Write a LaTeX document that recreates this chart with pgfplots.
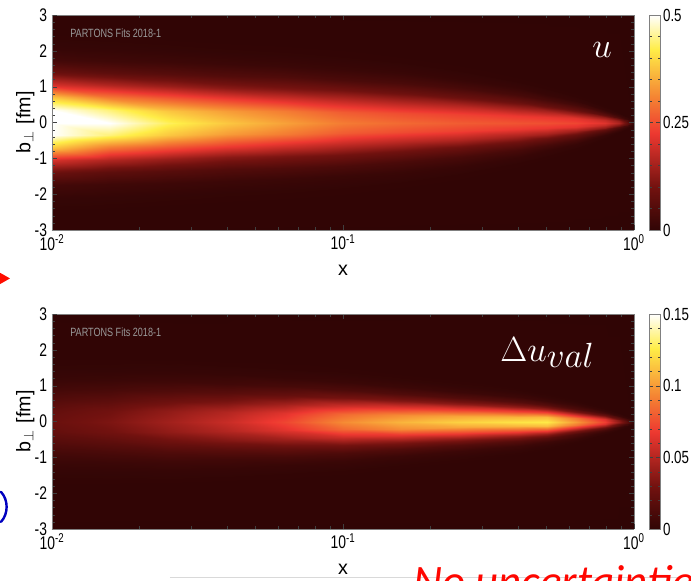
\documentclass[border=0pt]{standalone}
\usepackage{fontspec}
\setmainfont{Liberation Sans}[FakeStretch=0.76]
\newfontfamily\labelfont{Liberation Sans}
\newfontfamily\carlito{Carlito}
\usepackage{pgfplots}
\pgfplotsset{compat=1.18}
\pgfplotsset{
 colormap={partons}{rgb(0pt)=(0.19,0.02,0.02); rgb(20pt)=(0.45,0.07,0.06); rgb(45pt)=(0.93,0.22,0.19); rgb(62pt)=(0.96,0.52,0.2); rgb(84pt)=(1,0.93,0.28); rgb(100pt)=(1,1,1)},
}
\begin{document}
\begin{tikzpicture}
\useasboundingbox (0,0) rectangle (17.275cm,-14.5cm);
% ---------------- top panel: u ----------------
\begin{axis}[at={(1.3cm,-5.75cm)}, anchor=south west,
  scale only axis, width=14.55cm, height=5.375cm,
  view={0}{90},
  xmode=log, xmin=0.01, xmax=1, ymin=-3, ymax=3,
  xtick={0.01,0.1,1},
  xticklabels={10\textsuperscript{-2},10\textsuperscript{-1},10\textsuperscript{0}},
  ytick={-3,-2,-1,0,1,2,3}, yticklabels={-3,-2,-1,0,1,2,3}, minor y tick num=4,
  ztick=\empty,
  tick align=inside,
  axis line style={black!50},
  tick style={black!75},
  major tick length=0.13cm, minor tick length=0.08cm,
  tick label style={font=\fontsize{13}{13}\selectfont},
  label style={font=\labelfont\fontsize{14}{14}\selectfont},
  xlabel={x}, ylabel={b$_{\perp}$\hspace{0.35em}[fm]},
  xlabel style={at={(axis description cs:0.5,-0.186)}, anchor=center},
  ylabel style={at={(axis description cs:-0.046,0.5)}, anchor=center},
  axis on top, enlargelimits=false,
  colormap name=partons, colorbar,
  point meta min=0, point meta max=0.5,
  colorbar style={at={(parent axis.north east)}, anchor=north west, xshift=0.08cm,
    width=0.275cm, axis line style={black!50},
    tick align=inside, tick style={black!75},
    major tick length=0.1cm, minor tick length=0.06cm,
    ytick={0,0.25,0.5}, yticklabels={0,0.25,0.5}, minor y tick num=4,
    yticklabel style={xshift=-1.5pt},
    tick label style={font=\fontsize{12.5}{12.5}\selectfont}}]
\addplot3[surf, shader=interp, mesh/ordering=y varies, mesh/rows=17] table[row sep=\\] {
x y z \\
0.01 -3 0 \\ 0.01 -2.45 0.0014 \\ 0.01 -2.1 0.0069 \\ 0.01 -1.75 0.0272 \\ 0.01 -1.4 0.0839 \\ 0.01 -1.05 0.2013 \\ 0.01 -0.7 0.3760 \\ 0.01 -0.35 0.5472 \\ 0.01 0 0.62 \\ 0.01 0.35 0.5472 \\ 0.01 0.7 0.3760 \\ 0.01 1.05 0.2013 \\ 0.01 1.4 0.0839 \\ 0.01 1.75 0.0272 \\ 0.01 2.1 0.0069 \\ 0.01 2.45 0.0014 \\ 0.01 3 0 \\
0.015849 -3 0 \\ 0.015849 -2.415 0.0011 \\ 0.015849 -2.07 0.0056 \\ 0.015849 -1.725 0.0220 \\ 0.015849 -1.38 0.0677 \\ 0.015849 -1.035 0.1624 \\ 0.015849 -0.69 0.3033 \\ 0.015849 -0.345 0.4413 \\ 0.015849 0 0.5 \\ 0.015849 0.345 0.4413 \\ 0.015849 0.69 0.3033 \\ 0.015849 1.035 0.1624 \\ 0.015849 1.38 0.0677 \\ 0.015849 1.725 0.0220 \\ 0.015849 2.07 0.0056 \\ 0.015849 2.415 0.0011 \\ 0.015849 3 0 \\
0.025119 -3 0 \\ 0.025119 -2.345 0.0009 \\ 0.025119 -2.01 0.0048 \\ 0.025119 -1.675 0.0189 \\ 0.025119 -1.34 0.0582 \\ 0.025119 -1.005 0.1396 \\ 0.025119 -0.67 0.2608 \\ 0.025119 -0.335 0.3795 \\ 0.025119 0 0.43 \\ 0.025119 0.335 0.3795 \\ 0.025119 0.67 0.2608 \\ 0.025119 1.005 0.1396 \\ 0.025119 1.34 0.0582 \\ 0.025119 1.675 0.0189 \\ 0.025119 2.01 0.0048 \\ 0.025119 2.345 0.0009 \\ 0.025119 3 0 \\
0.039811 -3 0 \\ 0.039811 -2.275 0.0008 \\ 0.039811 -1.95 0.0042 \\ 0.039811 -1.625 0.0167 \\ 0.039811 -1.3 0.0514 \\ 0.039811 -0.975 0.1234 \\ 0.039811 -0.65 0.2305 \\ 0.039811 -0.325 0.3354 \\ 0.039811 0 0.38 \\ 0.039811 0.325 0.3354 \\ 0.039811 0.65 0.2305 \\ 0.039811 0.975 0.1234 \\ 0.039811 1.3 0.0514 \\ 0.039811 1.625 0.0167 \\ 0.039811 1.95 0.0042 \\ 0.039811 2.275 0.0008 \\ 0.039811 3 0 \\
0.063096 -3 0 \\ 0.063096 -2.205 0.0007 \\ 0.063096 -1.89 0.0038 \\ 0.063096 -1.575 0.0149 \\ 0.063096 -1.26 0.0460 \\ 0.063096 -0.945 0.1104 \\ 0.063096 -0.63 0.2062 \\ 0.063096 -0.315 0.3001 \\ 0.063096 0 0.34 \\ 0.063096 0.315 0.3001 \\ 0.063096 0.63 0.2062 \\ 0.063096 0.945 0.1104 \\ 0.063096 1.26 0.0460 \\ 0.063096 1.575 0.0149 \\ 0.063096 1.89 0.0038 \\ 0.063096 2.205 0.0007 \\ 0.063096 3 0 \\
0.1 -3 0 \\ 0.1 -2.1 0.0007 \\ 0.1 -1.8 0.0033 \\ 0.1 -1.5 0.0132 \\ 0.1 -1.2 0.0406 \\ 0.1 -0.9 0.0974 \\ 0.1 -0.6 0.1820 \\ 0.1 -0.3 0.2648 \\ 0.1 0 0.30 \\ 0.1 0.3 0.2648 \\ 0.1 0.6 0.1820 \\ 0.1 0.9 0.0974 \\ 0.1 1.2 0.0406 \\ 0.1 1.5 0.0132 \\ 0.1 1.8 0.0033 \\ 0.1 2.1 0.0007 \\ 0.1 3 0 \\
0.158489 -3 0 \\ 0.158489 -1.925 0.0006 \\ 0.158489 -1.65 0.0031 \\ 0.158489 -1.375 0.0123 \\ 0.158489 -1.1 0.0379 \\ 0.158489 -0.825 0.0909 \\ 0.158489 -0.55 0.1698 \\ 0.158489 -0.275 0.2471 \\ 0.158489 0 0.28 \\ 0.158489 0.275 0.2471 \\ 0.158489 0.55 0.1698 \\ 0.158489 0.825 0.0909 \\ 0.158489 1.1 0.0379 \\ 0.158489 1.375 0.0123 \\ 0.158489 1.65 0.0031 \\ 0.158489 1.925 0.0006 \\ 0.158489 3 0 \\
0.251189 -3 0 \\ 0.251189 -1.68 0.0006 \\ 0.251189 -1.44 0.0029 \\ 0.251189 -1.2 0.0116 \\ 0.251189 -0.96 0.0359 \\ 0.251189 -0.72 0.0860 \\ 0.251189 -0.48 0.1607 \\ 0.251189 -0.24 0.2339 \\ 0.251189 0 0.265 \\ 0.251189 0.24 0.2339 \\ 0.251189 0.48 0.1607 \\ 0.251189 0.72 0.0860 \\ 0.251189 0.96 0.0359 \\ 0.251189 1.2 0.0116 \\ 0.251189 1.44 0.0029 \\ 0.251189 1.68 0.0006 \\ 0.251189 3 0 \\
0.398107 -3 0 \\ 0.398107 -1.33 0.0006 \\ 0.398107 -1.14 0.0028 \\ 0.398107 -0.95 0.0112 \\ 0.398107 -0.76 0.0345 \\ 0.398107 -0.57 0.0828 \\ 0.398107 -0.38 0.1547 \\ 0.398107 -0.19 0.2250 \\ 0.398107 0 0.255 \\ 0.398107 0.19 0.2250 \\ 0.398107 0.38 0.1547 \\ 0.398107 0.57 0.0828 \\ 0.398107 0.76 0.0345 \\ 0.398107 0.95 0.0112 \\ 0.398107 1.14 0.0028 \\ 0.398107 1.33 0.0006 \\ 0.398107 3 0 \\
0.501187 -3 0 \\ 0.501187 -1.085 0.0006 \\ 0.501187 -0.93 0.0028 \\ 0.501187 -0.775 0.0110 \\ 0.501187 -0.62 0.0338 \\ 0.501187 -0.465 0.0812 \\ 0.501187 -0.31 0.1516 \\ 0.501187 -0.155 0.2206 \\ 0.501187 0 0.25 \\ 0.501187 0.155 0.2206 \\ 0.501187 0.31 0.1516 \\ 0.501187 0.465 0.0812 \\ 0.501187 0.62 0.0338 \\ 0.501187 0.775 0.0110 \\ 0.501187 0.93 0.0028 \\ 0.501187 1.085 0.0006 \\ 0.501187 3 0 \\
0.630957 -3 0 \\ 0.630957 -0.84 0.0005 \\ 0.630957 -0.72 0.0027 \\ 0.630957 -0.6 0.0105 \\ 0.630957 -0.48 0.0325 \\ 0.630957 -0.36 0.0779 \\ 0.630957 -0.24 0.1456 \\ 0.630957 -0.12 0.2118 \\ 0.630957 0 0.24 \\ 0.630957 0.12 0.2118 \\ 0.630957 0.24 0.1456 \\ 0.630957 0.36 0.0779 \\ 0.630957 0.48 0.0325 \\ 0.630957 0.6 0.0105 \\ 0.630957 0.72 0.0027 \\ 0.630957 0.84 0.0005 \\ 0.630957 3 0 \\
0.794328 -3 0 \\ 0.794328 -0.49 0.0005 \\ 0.794328 -0.42 0.0023 \\ 0.794328 -0.35 0.0092 \\ 0.794328 -0.28 0.0284 \\ 0.794328 -0.21 0.0682 \\ 0.794328 -0.14 0.1274 \\ 0.794328 -0.07 0.1853 \\ 0.794328 0 0.21 \\ 0.794328 0.07 0.1853 \\ 0.794328 0.14 0.1274 \\ 0.794328 0.21 0.0682 \\ 0.794328 0.28 0.0284 \\ 0.794328 0.35 0.0092 \\ 0.794328 0.42 0.0023 \\ 0.794328 0.49 0.0005 \\ 0.794328 3 0 \\
0.891251 -3 0 \\ 0.891251 -0.315 0.0004 \\ 0.891251 -0.27 0.0018 \\ 0.891251 -0.225 0.0070 \\ 0.891251 -0.18 0.0216 \\ 0.891251 -0.135 0.0520 \\ 0.891251 -0.09 0.0970 \\ 0.891251 -0.045 0.1412 \\ 0.891251 0 0.16 \\ 0.891251 0.045 0.1412 \\ 0.891251 0.09 0.0970 \\ 0.891251 0.135 0.0520 \\ 0.891251 0.18 0.0216 \\ 0.891251 0.225 0.0070 \\ 0.891251 0.27 0.0018 \\ 0.891251 0.315 0.0004 \\ 0.891251 3 0 \\
1 -3 0 \\ 1 -0.105 0 \\ 1 -0.09 0 \\ 1 -0.075 0 \\ 1 -0.06 0 \\ 1 -0.045 0 \\ 1 -0.03 0 \\ 1 -0.015 0 \\ 1 0 0 \\ 1 0.015 0 \\ 1 0.03 0 \\ 1 0.045 0 \\ 1 0.06 0 \\ 1 0.075 0 \\ 1 0.09 0 \\ 1 0.105 0 \\ 1 3 0 \\
};
\node[anchor=west, inner sep=0pt, text=black!40, font=\fontsize{8.5}{8.5}\selectfont] at (axis description cs:0.031,0.916) {PARTONS Fits 2018-1};
\node[text=white, inner sep=0pt, font=\fontsize{46}{46}\selectfont] at (axis description cs:0.945,0.838) {$u$};
\end{axis}
% ---------------- bottom panel: Delta u_val ----------------
\begin{axis}[at={(1.3cm,-13.225cm)}, anchor=south west,
  scale only axis, width=14.55cm, height=5.375cm,
  view={0}{90},
  xmode=log, xmin=0.01, xmax=1, ymin=-3, ymax=3,
  xtick={0.01,0.1,1},
  xticklabels={10\textsuperscript{-2},10\textsuperscript{-1},10\textsuperscript{0}},
  ytick={-3,-2,-1,0,1,2,3}, yticklabels={-3,-2,-1,0,1,2,3}, minor y tick num=4,
  ztick=\empty,
  tick align=inside,
  axis line style={black!50},
  tick style={black!75},
  major tick length=0.13cm, minor tick length=0.08cm,
  tick label style={font=\fontsize{13}{13}\selectfont},
  label style={font=\labelfont\fontsize{14}{14}\selectfont},
  xlabel={x}, ylabel={b$_{\perp}$\hspace{0.35em}[fm]},
  xlabel style={at={(axis description cs:0.5,-0.186)}, anchor=center},
  ylabel style={at={(axis description cs:-0.046,0.5)}, anchor=center},
  axis on top, enlargelimits=false,
  colormap name=partons, colorbar,
  point meta min=0, point meta max=0.15,
  colorbar style={at={(parent axis.north east)}, anchor=north west, xshift=0.08cm,
    width=0.275cm, axis line style={black!50},
    tick align=inside, tick style={black!75},
    major tick length=0.1cm, minor tick length=0.06cm,
    ytick={0,0.05,0.1,0.15}, yticklabels={0,0.05,0.1,0.15}, minor y tick num=4,
    yticklabel style={xshift=-1.5pt},
    tick label style={font=\fontsize{12.5}{12.5}\selectfont}}]
\addplot3[surf, shader=interp, mesh/ordering=y varies, mesh/rows=17] table[row sep=\\] {
x y z \\
0.01 -3 0 \\ 0.01 -2.1 0.0001 \\ 0.01 -1.8 0.0003 \\ 0.01 -1.5 0.0011 \\ 0.01 -1.2 0.0035 \\ 0.01 -0.9 0.0084 \\ 0.01 -0.6 0.0158 \\ 0.01 -0.3 0.0229 \\ 0.01 0 0.026 \\ 0.01 0.3 0.0229 \\ 0.01 0.6 0.0158 \\ 0.01 0.9 0.0084 \\ 0.01 1.2 0.0035 \\ 0.01 1.5 0.0011 \\ 0.01 1.8 0.0003 \\ 0.01 2.1 0.0001 \\ 0.01 3 0 \\
0.015849 -3 0 \\ 0.015849 -2.03 0.0001 \\ 0.015849 -1.74 0.0004 \\ 0.015849 -1.45 0.0014 \\ 0.015849 -1.16 0.0045 \\ 0.015849 -0.87 0.0107 \\ 0.015849 -0.58 0.0200 \\ 0.015849 -0.29 0.0291 \\ 0.015849 0 0.033 \\ 0.015849 0.29 0.0291 \\ 0.015849 0.58 0.0200 \\ 0.015849 0.87 0.0107 \\ 0.015849 1.16 0.0045 \\ 0.015849 1.45 0.0014 \\ 0.015849 1.74 0.0004 \\ 0.015849 2.03 0.0001 \\ 0.015849 3 0 \\
0.025119 -3 0 \\ 0.025119 -1.96 0.0001 \\ 0.025119 -1.68 0.0005 \\ 0.025119 -1.4 0.0019 \\ 0.025119 -1.12 0.0060 \\ 0.025119 -0.84 0.0143 \\ 0.025119 -0.56 0.0267 \\ 0.025119 -0.28 0.0388 \\ 0.025119 0 0.044 \\ 0.025119 0.28 0.0388 \\ 0.025119 0.56 0.0267 \\ 0.025119 0.84 0.0143 \\ 0.025119 1.12 0.0060 \\ 0.025119 1.4 0.0019 \\ 0.025119 1.68 0.0005 \\ 0.025119 1.96 0.0001 \\ 0.025119 3 0 \\
0.039811 -3 0 \\ 0.039811 -1.855 0.0001 \\ 0.039811 -1.59 0.0006 \\ 0.039811 -1.325 0.0025 \\ 0.039811 -1.06 0.0076 \\ 0.039811 -0.795 0.0182 \\ 0.039811 -0.53 0.0340 \\ 0.039811 -0.265 0.0494 \\ 0.039811 0 0.056 \\ 0.039811 0.265 0.0494 \\ 0.039811 0.53 0.0340 \\ 0.039811 0.795 0.0182 \\ 0.039811 1.06 0.0076 \\ 0.039811 1.325 0.0025 \\ 0.039811 1.59 0.0006 \\ 0.039811 1.855 0.0001 \\ 0.039811 3 0 \\
0.063096 -3 0 \\ 0.063096 -1.715 0.0002 \\ 0.063096 -1.47 0.0008 \\ 0.063096 -1.225 0.0032 \\ 0.063096 -0.98 0.0097 \\ 0.063096 -0.735 0.0234 \\ 0.063096 -0.49 0.0437 \\ 0.063096 -0.245 0.0635 \\ 0.063096 0 0.072 \\ 0.063096 0.245 0.0635 \\ 0.063096 0.49 0.0437 \\ 0.063096 0.735 0.0234 \\ 0.063096 0.98 0.0097 \\ 0.063096 1.225 0.0032 \\ 0.063096 1.47 0.0008 \\ 0.063096 1.715 0.0002 \\ 0.063096 3 0 \\
0.1 -3 0 \\ 0.1 -1.54 0.0002 \\ 0.1 -1.32 0.0011 \\ 0.1 -1.1 0.0042 \\ 0.1 -0.88 0.0129 \\ 0.1 -0.66 0.0308 \\ 0.1 -0.44 0.0576 \\ 0.1 -0.22 0.0838 \\ 0.1 0 0.095 \\ 0.1 0.22 0.0838 \\ 0.1 0.44 0.0576 \\ 0.1 0.66 0.0308 \\ 0.1 0.88 0.0129 \\ 0.1 1.1 0.0042 \\ 0.1 1.32 0.0011 \\ 0.1 1.54 0.0002 \\ 0.1 3 0 \\
0.158489 -3 0 \\ 0.158489 -1.365 0.0002 \\ 0.158489 -1.17 0.0012 \\ 0.158489 -0.975 0.0047 \\ 0.158489 -0.78 0.0146 \\ 0.158489 -0.585 0.0351 \\ 0.158489 -0.39 0.0655 \\ 0.158489 -0.195 0.0953 \\ 0.158489 0 0.108 \\ 0.158489 0.195 0.0953 \\ 0.158489 0.39 0.0655 \\ 0.158489 0.585 0.0351 \\ 0.158489 0.78 0.0146 \\ 0.158489 0.975 0.0047 \\ 0.158489 1.17 0.0012 \\ 0.158489 1.365 0.0002 \\ 0.158489 3 0 \\
0.251189 -3 0 \\ 0.251189 -1.155 0.0003 \\ 0.251189 -0.99 0.0013 \\ 0.251189 -0.825 0.0051 \\ 0.251189 -0.66 0.0158 \\ 0.251189 -0.495 0.0380 \\ 0.251189 -0.33 0.0710 \\ 0.251189 -0.165 0.1033 \\ 0.251189 0 0.117 \\ 0.251189 0.165 0.1033 \\ 0.251189 0.33 0.0710 \\ 0.251189 0.495 0.0380 \\ 0.251189 0.66 0.0158 \\ 0.251189 0.825 0.0051 \\ 0.251189 0.99 0.0013 \\ 0.251189 1.155 0.0003 \\ 0.251189 3 0 \\
0.398107 -3 0 \\ 0.398107 -0.945 0.0003 \\ 0.398107 -0.81 0.0014 \\ 0.398107 -0.675 0.0054 \\ 0.398107 -0.54 0.0166 \\ 0.398107 -0.405 0.0399 \\ 0.398107 -0.27 0.0746 \\ 0.398107 -0.135 0.1085 \\ 0.398107 0 0.123 \\ 0.398107 0.135 0.1085 \\ 0.398107 0.27 0.0746 \\ 0.398107 0.405 0.0399 \\ 0.398107 0.54 0.0166 \\ 0.398107 0.675 0.0054 \\ 0.398107 0.81 0.0014 \\ 0.398107 0.945 0.0003 \\ 0.398107 3 0 \\
0.501187 -3 0 \\ 0.501187 -0.805 0.0003 \\ 0.501187 -0.69 0.0014 \\ 0.501187 -0.575 0.0055 \\ 0.501187 -0.46 0.0169 \\ 0.501187 -0.345 0.0406 \\ 0.501187 -0.23 0.0758 \\ 0.501187 -0.115 0.1103 \\ 0.501187 0 0.125 \\ 0.501187 0.115 0.1103 \\ 0.501187 0.23 0.0758 \\ 0.501187 0.345 0.0406 \\ 0.501187 0.46 0.0169 \\ 0.501187 0.575 0.0055 \\ 0.501187 0.69 0.0014 \\ 0.501187 0.805 0.0003 \\ 0.501187 3 0 \\
0.630957 -3 0 \\ 0.630957 -0.63 0.0002 \\ 0.630957 -0.54 0.0011 \\ 0.630957 -0.45 0.0044 \\ 0.630957 -0.36 0.0135 \\ 0.630957 -0.27 0.0325 \\ 0.630957 -0.18 0.0607 \\ 0.630957 -0.09 0.0883 \\ 0.630957 0 0.10 \\ 0.630957 0.09 0.0883 \\ 0.630957 0.18 0.0607 \\ 0.630957 0.27 0.0325 \\ 0.630957 0.36 0.0135 \\ 0.630957 0.45 0.0044 \\ 0.630957 0.54 0.0011 \\ 0.630957 0.63 0.0002 \\ 0.630957 3 0 \\
0.794328 -3 0 \\ 0.794328 -0.42 0.0002 \\ 0.794328 -0.36 0.0008 \\ 0.794328 -0.3 0.0031 \\ 0.794328 -0.24 0.0095 \\ 0.794328 -0.18 0.0227 \\ 0.794328 -0.12 0.0425 \\ 0.794328 -0.06 0.0618 \\ 0.794328 0 0.07 \\ 0.794328 0.06 0.0618 \\ 0.794328 0.12 0.0425 \\ 0.794328 0.18 0.0227 \\ 0.794328 0.24 0.0095 \\ 0.794328 0.3 0.0031 \\ 0.794328 0.36 0.0008 \\ 0.794328 0.42 0.0002 \\ 0.794328 3 0 \\
0.891251 -3 0 \\ 0.891251 -0.28 0.0001 \\ 0.891251 -0.24 0.0004 \\ 0.891251 -0.2 0.0018 \\ 0.891251 -0.16 0.0054 \\ 0.891251 -0.12 0.0130 \\ 0.891251 -0.08 0.0243 \\ 0.891251 -0.04 0.0353 \\ 0.891251 0 0.04 \\ 0.891251 0.04 0.0353 \\ 0.891251 0.08 0.0243 \\ 0.891251 0.12 0.0130 \\ 0.891251 0.16 0.0054 \\ 0.891251 0.2 0.0018 \\ 0.891251 0.24 0.0004 \\ 0.891251 0.28 0.0001 \\ 0.891251 3 0 \\
1 -3 0 \\ 1 -0.105 0 \\ 1 -0.09 0 \\ 1 -0.075 0 \\ 1 -0.06 0 \\ 1 -0.045 0 \\ 1 -0.03 0 \\ 1 -0.015 0 \\ 1 0 0 \\ 1 0.015 0 \\ 1 0.03 0 \\ 1 0.045 0 \\ 1 0.06 0 \\ 1 0.075 0 \\ 1 0.09 0 \\ 1 0.105 0 \\ 1 3 0 \\
};
\node[anchor=west, inner sep=0pt, text=black!40, font=\fontsize{8.5}{8.5}\selectfont] at (axis description cs:0.031,0.916) {PARTONS Fits 2018-1};
\node[anchor=base west, text=white, inner sep=0pt] at (axis description cs:0.77,0.781) {{\fontsize{30}{30}\selectfont$\Delta u$}\raisebox{-4.5pt}{\fontsize{24}{24}\selectfont$val$}};
\end{axis}
% ---------------- slide remnants ----------------
\begin{scope}[x=0.025cm, y=-0.025cm]
\fill[red!90!orange] (-5,270) -- (10,278.5) -- (-5,287) -- cycle;
\draw[blue!75!black, line width=0.06cm, line cap=round] (1,492) .. controls (8.5,500) and (8.5,514) .. (1,522);
\draw[black!15, line width=0.6pt] (170,578) -- (680,578);
\node[anchor=base west, inner sep=0pt, text=red!95!orange, font=\carlito\itshape\fontsize{32}{32}\selectfont] at (413,597) {No uncertainties};
\end{scope}
\end{tikzpicture}
\end{document}
